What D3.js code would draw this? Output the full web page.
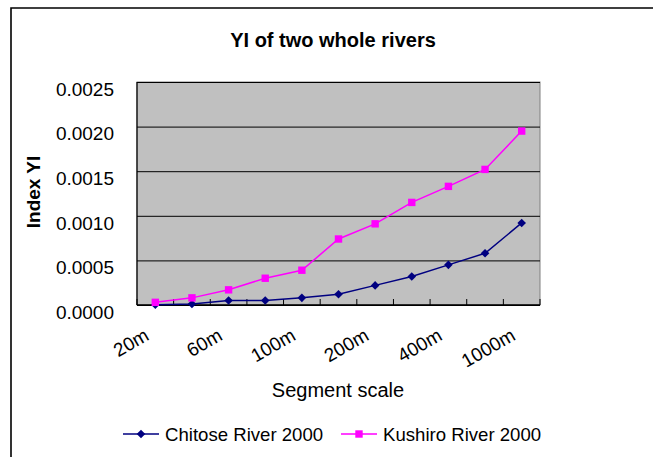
<!DOCTYPE html>
<html>
<head>
<meta charset="utf-8">
<script src="https://cdn.jsdelivr.net/npm/d3@7/dist/d3.min.js"></script>
<style>
  html, body { margin: 0; padding: 0; background: #fff; }
  svg { display: block; font-family: "Liberation Sans", Arial, sans-serif; }
</style>
</head>
<body>
<div id="chart"></div>
<script>
// ── Data ─────────────────────────────────────────────────────────────────
const scales   = ["20m", "40m", "60m", "80m", "100m", "150m", "200m", "300m", "400m", "600m", "1000m"];
const shownTicks = ["20m", "60m", "100m", "200m", "400m", "1000m"];
const chitose  = [0.000002, 0.000012, 0.00005, 0.00005, 0.00008, 0.00012, 0.00022, 0.00032, 0.00045, 0.00058, 0.00092];
const kushiro  = [0.00003, 0.00008, 0.00017, 0.0003, 0.00039, 0.00074, 0.00091, 0.00115, 0.00133, 0.00152, 0.00195];
const yTicks   = [0, 0.0005, 0.001, 0.0015, 0.002, 0.0025];

const series = [
  { name: "Chitose River 2000", values: chitose, color: "#000080", marker: "diamond" },
  { name: "Kushiro River 2000", values: kushiro, color: "#ff00ff", marker: "square" },
];

// ── Layout ───────────────────────────────────────────────────────────────
const W = 653, H = 457;
const plot = { left: 137, right: 540, top: 82, bottom: 305 };

const svg = d3.select("#chart").append("svg")
  .attr("width", W).attr("height", H);

// outer frame (cut by the window on the right / bottom)
svg.append("path")
  .attr("d", `M11,${H + 5}V8H${W + 5}`)
  .attr("fill", "none").attr("stroke", "#000").attr("stroke-width", 1.6);

const x = d3.scaleBand().domain(scales).range([plot.left, plot.right]).padding(0);
const y = d3.scaleLinear().domain([0, 0.0025]).range([plot.bottom, plot.top]);

// plot area
svg.append("rect")
  .attr("x", plot.left).attr("y", plot.top)
  .attr("width", plot.right - plot.left).attr("height", plot.bottom - plot.top)
  .attr("fill", "#c0c0c0").attr("stroke", "#808080").attr("stroke-width", 1);

// y axis: gridlines + labels
const yAxis = svg.append("g")
  .attr("transform", `translate(${plot.left},0)`)
  .call(d3.axisLeft(y).tickValues(yTicks).tickFormat(d3.format(".4f"))
    .tickSize(-(plot.right - plot.left)).tickPadding(23));
yAxis.select(".domain").remove();
yAxis.selectAll(".tick line").attr("stroke", "#000").attr("stroke-width", 1);
yAxis.selectAll(".tick text")
  .attr("fill", "#000").attr("font-size", "19px")
  .attr("dy", "0.7em").attr("y", 0);

// axis lines
svg.append("line")
  .attr("x1", plot.left).attr("x2", plot.left).attr("y1", plot.top).attr("y2", plot.bottom)
  .attr("stroke", "#000").attr("stroke-width", 1.2);
svg.append("line")
  .attr("x1", plot.left).attr("x2", plot.right).attr("y1", plot.bottom).attr("y2", plot.bottom)
  .attr("stroke", "#000").attr("stroke-width", 1.6);

// category boundary ticks (inside)
svg.append("g").selectAll("line")
  .data(scales.concat(["__end"]))
  .join("line")
  .attr("x1", (d) => d === "__end" ? plot.right : x(d))
  .attr("x2", (d) => d === "__end" ? plot.right : x(d))
  .attr("y1", plot.bottom).attr("y2", plot.bottom - 6)
  .attr("stroke", "#000").attr("stroke-width", 1);

// x axis labels
const xAxis = svg.append("g")
  .attr("transform", `translate(0,${plot.bottom})`)
  .call(d3.axisBottom(x).tickValues(shownTicks).tickSize(0));
xAxis.select(".domain").remove();
xAxis.selectAll(".tick text")
  .attr("fill", "#000").attr("font-size", "19px")
  .attr("text-anchor", "end")
  .attr("dy", 0).attr("y", 0)
  .attr("transform", "translate(-5,34) rotate(-30)");

// lines + markers
const line = d3.line()
  .x((d, i) => x(scales[i]) + x.bandwidth() / 2)
  .y((d) => y(d));

const diamond = (s) => `M0,${-s}L${s},0L0,${s}L${-s},0Z`;

series.forEach((s) => {
  svg.append("path").datum(s.values)
    .attr("d", line).attr("fill", "none")
    .attr("stroke", s.color).attr("stroke-width", 1.5);
  const g = svg.append("g");
  s.values.forEach((v, i) => {
    const cx = x(scales[i]) + x.bandwidth() / 2, cy = y(v);
    if (s.marker === "square") {
      g.append("rect").attr("x", cx - 3.7).attr("y", cy - 3.7)
        .attr("width", 7.4).attr("height", 7.4).attr("fill", s.color);
    } else {
      g.append("path").attr("d", diamond(4.3))
        .attr("transform", `translate(${cx},${cy})`).attr("fill", s.color);
    }
  });
});

// title + axis titles
svg.append("text")
  .attr("x", 333).attr("y", 47).attr("text-anchor", "middle")
  .attr("font-size", "20px").attr("font-weight", "bold").text("YI of two whole rivers");

svg.append("text")
  .attr("transform", "translate(40,192) rotate(-90)").attr("text-anchor", "middle")
  .attr("font-size", "19px").attr("font-weight", "bold").text("Index YI");

svg.append("text")
  .attr("x", 338).attr("y", 397).attr("text-anchor", "middle")
  .attr("font-size", "20px").text("Segment scale");

// legend
const legX = [123, 341];
series.forEach((s, i) => {
  const lx = legX[i], ly = 434;
  svg.append("line").attr("x1", lx).attr("x2", lx + 36).attr("y1", ly).attr("y2", ly)
    .attr("stroke", s.color).attr("stroke-width", 1.5);
  if (s.marker === "square") {
    svg.append("rect").attr("x", lx + 18 - 3.7).attr("y", ly - 3.7)
      .attr("width", 7.4).attr("height", 7.4).attr("fill", s.color);
  } else {
    svg.append("path").attr("d", diamond(4.3))
      .attr("transform", `translate(${lx + 18},${ly})`).attr("fill", s.color);
  }
  svg.append("text").attr("x", lx + 42).attr("y", ly + 6.5)
    .attr("font-size", "18.6px").text(s.name);
});
</script>
</body>
</html>
